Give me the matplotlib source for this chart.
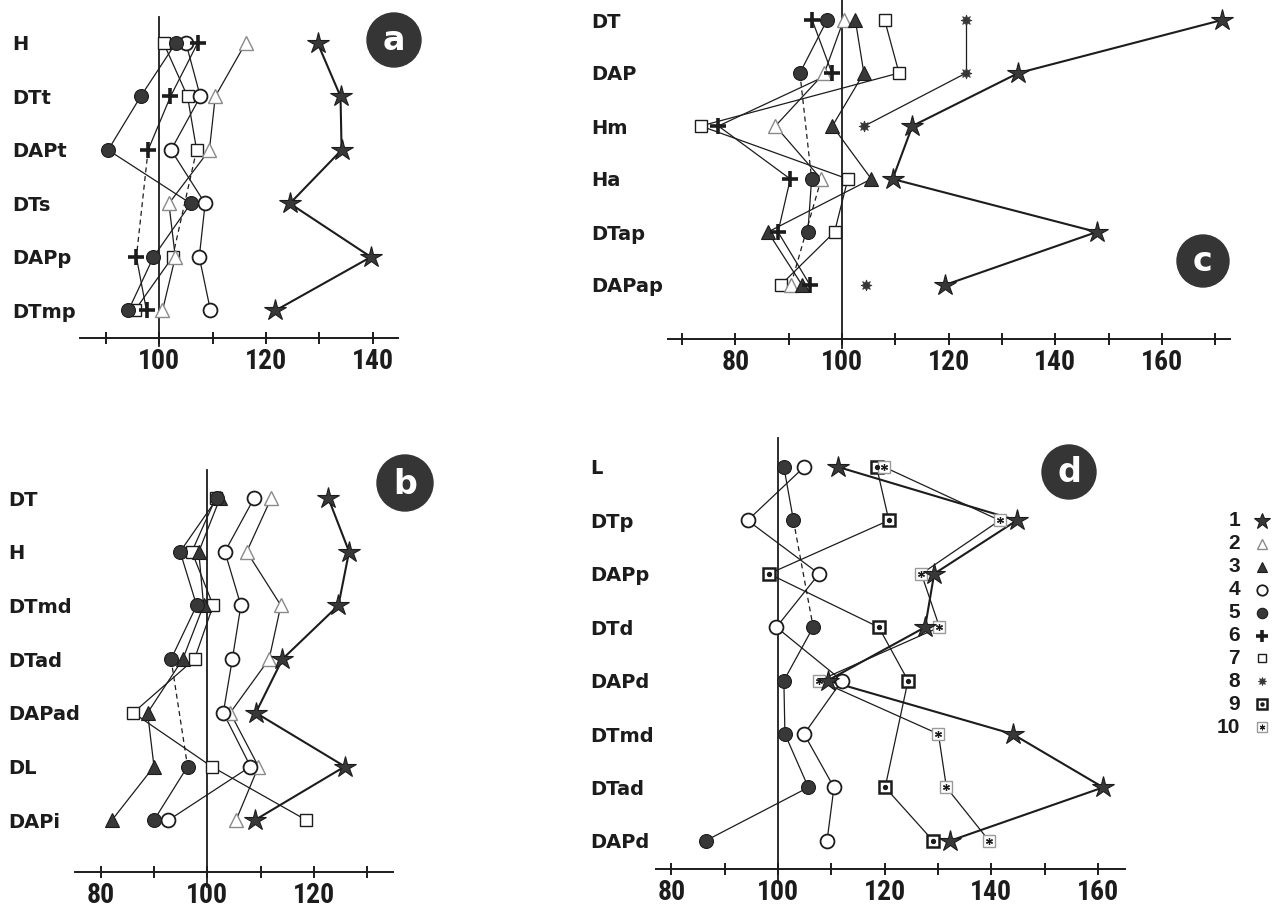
import numpy as np
import matplotlib
matplotlib.use('Agg')
import matplotlib.pyplot as plt
from matplotlib.patches import Circle

nan = np.nan

# ---- panel a ----
A_ROWS = ['H', 'DTt', 'DAPt', 'DTs', 'DAPp', 'DTmp']
A_STAR = [129.7, 134.0, 134.2, 124.5, 139.7, 121.8]      # 1
A_OTRI = [116.2, 110.5, 109.4, 101.8, 103.0, 100.6]      # 2
A_OCIR = [105.0, 107.7, 102.2, 108.6, 107.5, 109.6]      # 4
A_FCIR = [103.1, 96.5, 90.4, 105.9, 98.9, 94.2]          # 5
A_PLUS = [107.2, 102.1, 97.9, nan, 95.7, 97.6]           # 6
A_OSQ = [100.8, 105.3, 107.0, nan, 102.5, 95.4]          # 7

# ---- panel b ----
B_ROWS = ['DT', 'H', 'DTmd', 'DTad', 'DAPad', 'DL', 'DAPi']
B_STAR = [122.7, 126.6, 124.6, 114.1, 109.1, 125.8, 108.9]
B_OTRI = [112.0, 107.4, 113.8, 111.6, 104.3, 109.6, 105.4]
B_FTRI = [102.4, 98.4, 99.3, 95.4, 88.8, 90.0, 82.1]
B_OCIR = [108.8, 103.3, 106.3, 104.7, 103.0, 108.1, 92.7]
B_FCIR = [101.9, 94.9, 98.0, 93.2, nan, 96.3, 90.0]
B_OSQ = [101.6, 97.1, 101.1, 97.6, 86.1, 100.8, 118.6]

# ---- panel c ----
C_ROWS = ['DT', 'DAP', 'Hm', 'Ha', 'DTap', 'DAPap']
C_STAR = [171.3, 133.1, 113.2, 109.5, 147.8, 119.3]
C_OTRI = [100.3, 96.7, 87.5, 96.1, nan, 90.4]
C_FTRI = [102.5, 104.1, 98.2, 105.5, 86.1, 92.5]
C_FCIR = [97.2, 92.1, nan, 94.3, 93.6, nan]
C_PLUS = [94.4, 98.1, 76.8, 90.3, 88.0, 94.0]
C_OSQ = [108.0, 110.7, 73.5, 101.1, 98.6, 88.5]
C_AST = [123.3, 123.3, 104.2, nan, nan, 104.5]

# ---- panel d ----
D_ROWS = ['L', 'DTp', 'DAPp', 'DTd', 'DAPd', 'DTmd', 'DTad', 'DAPd']
D_STAR = [111.3, 144.8, 129.3, 127.6, 109.3, 144.0, 161.0, 132.3]
D_OCIR = [104.9, 94.3, 107.7, 99.7, 112.0, 104.9, 110.5, 109.2]
D_FCIR = [101.1, 102.9, nan, 106.6, 101.1, 101.3, 105.7, 86.4]
D_SQDOT = [118.5, 120.8, 98.3, 118.9, 124.4, nan, 120.1, 129.1]
D_SQAST = [119.9, 141.6, 126.9, 130.3, 107.7, 130.1, 131.6, 139.6]

LEGEND_KEYS = [1, 2, 3, 4, 5, 6, 7, 8, 9, 10]

W, H = 1273, 915
DARK = '#383838'
INK = '#1c1c1c'

STYLE = {
    1: dict(marker='*', ms=16, mfc=DARK, mec=INK, mew=0.8),
    2: dict(marker='^', ms=10, mfc='white', mec='#8a8a8a', mew=1.0),
    3: dict(marker='^', ms=10, mfc=DARK, mec=INK, mew=0.8),
    4: dict(marker='o', ms=10, mfc='white', mec=INK, mew=1.3),
    5: dict(marker='o', ms=10, mfc=DARK, mec=INK, mew=0.8),
    6: dict(marker='+', ms=12, mfc=INK, mec=INK, mew=2.6),
    7: dict(marker='s', ms=8, mfc='white', mec=INK, mew=1.0),
    8: dict(marker=(8, 1, 0), ms=8, mfc=DARK, mec=DARK, mew=0.5),
    9: dict(marker='s', ms=9, mfc='white', mec=INK, mew=1.8),
    10: dict(marker='s', ms=9, mfc='white', mec='#9a9a9a', mew=1.0),
}
ZORD = {7: 3, 9: 3, 10: 3, 2: 4, 4: 4, 3: 5, 5: 5, 6: 6, 8: 6, 1: 7}

ROW_FONT = dict(family=['DejaVu Sans'], weight='bold', size=14)
NUM_FONT = dict(family=['Roboto Condensed', 'Liberation Sans Narrow', 'DejaVu Sans'],
                stretch='condensed', weight='bold', size=20)

fig = plt.figure(figsize=(W / 100, H / 100), dpi=100)
fig.patch.set_facecolor('white')


def make_panel(left, right, x100, row0, step, axis_y, top, vbottom, label_x,
               rows, ticks, labeled):
    px = 5.33
    ax = fig.add_axes([left / W, 1 - axis_y / H, (right - left) / W, (axis_y - top) / H])
    ax.set_xlim(100 + (left - x100) / px, 100 + (right - x100) / px)
    ax.set_ylim((axis_y - row0) / step, (top - row0) / step)
    for s in ['top', 'right', 'left']:
        ax.spines[s].set_visible(False)
    ax.spines['bottom'].set_linewidth(1.4)
    ax.spines['bottom'].set_color(INK)
    ax.set_xticks(ticks)
    ax.set_xticklabels([str(t) if t in labeled else '' for t in ticks], **NUM_FONT)
    ax.tick_params(axis='x', direction='inout', length=9, width=1.4, color=INK,
                   pad=3, labelcolor=INK)
    ax.set_yticks(range(len(rows)))
    ax.set_yticklabels(rows, ha='left', color=INK, **ROW_FONT)
    # pad is in points: convert the pixel distance
    ax.tick_params(axis='y', length=0, pad=(left - label_x) * 0.72)
    ax.set_facecolor('none')
    # reference line at 100
    ax.plot([100, 100], [(top - row0) / step, (vbottom - row0) / step],
            color=INK, lw=1.3, clip_on=False, zorder=1)
    return ax


def draw_series(ax, key, vals, dashed=(), breaks=()):
    vals = np.array(vals, dtype=float)
    ys = np.arange(len(vals))
    idx = np.where(~np.isnan(vals))[0]
    lw = 1.5 if key == 1 else 0.9
    for a, b in zip(idx[:-1], idx[1:]):
        if (a, b) in breaks:
            continue
        ls = (0, (4, 3)) if (a, b) in dashed else '-'
        ax.plot(vals[[a, b]], [a, b], color=INK, lw=lw, ls=ls, zorder=2,
                solid_capstyle='round')
    z = ZORD[key]
    ax.plot(vals, ys, ls='none', zorder=z, clip_on=False, **STYLE[key])
    if key == 9:
        ax.plot(vals, ys, ls='none', marker='o', ms=2.8, color=INK, zorder=z + 0.1)
    if key == 10:
        ax.plot(vals, ys, ls='none', marker=(6, 2, 0), ms=5, mew=0.9,
                color=INK, zorder=z + 0.1)


def badge(x, y, r, letter):
    fig.add_artist(Circle((x / 100, (H - y) / 100), r / 100,
                          transform=fig.dpi_scale_trans, color='#353535', zorder=10))
    fig.text(x / W, 1 - (y + 1) / H, letter, color='white', ha='center', va='center',
             fontsize=24, weight='bold', family=['DejaVu Sans'], zorder=11)


# panel a
ax_a = make_panel(80, 398, 159.3, 43, 53.5, 338, 17, 346, 12, A_ROWS,
                  list(range(90, 141, 10)), [100, 120, 140])
draw_series(ax_a, 7, A_OSQ, dashed=[(2, 4)])
draw_series(ax_a, 2, A_OTRI)
draw_series(ax_a, 4, A_OCIR)
draw_series(ax_a, 5, A_FCIR)
draw_series(ax_a, 6, A_PLUS, dashed=[(2, 4)])
draw_series(ax_a, 1, A_STAR)
badge(394, 40, 27, 'a')

# panel b
ax_b = make_panel(75, 393, 207.3, 498, 53.7, 872, 470, 887, 8, B_ROWS,
                  list(range(80, 131, 10)), [80, 100, 120])
draw_series(ax_b, 7, B_OSQ)
draw_series(ax_b, 2, B_OTRI)
draw_series(ax_b, 4, B_OCIR)
draw_series(ax_b, 3, B_FTRI)
draw_series(ax_b, 5, B_FCIR, dashed=[(3, 5)])
draw_series(ax_b, 1, B_STAR)
badge(405, 483, 28, 'b')

# panel c
ax_c = make_panel(668, 1230, 842, 20, 53.0, 339, 0, 348, 591, C_ROWS,
                  list(range(70, 171, 10)), [80, 100, 120, 140, 160])
draw_series(ax_c, 7, C_OSQ)
draw_series(ax_c, 2, C_OTRI, dashed=[(3, 5)])
draw_series(ax_c, 3, C_FTRI)
draw_series(ax_c, 5, C_FCIR, dashed=[(1, 3)])
draw_series(ax_c, 6, C_PLUS)
draw_series(ax_c, 8, C_AST, breaks=[(2, 5)])
draw_series(ax_c, 1, C_STAR)
badge(1203, 261, 26, 'c')

# panel d
ax_d = make_panel(656, 1125, 778, 467, 53.4, 869, 438, 883, 590, D_ROWS,
                  list(range(80, 161, 10)), [80, 100, 120, 140, 160])
draw_series(ax_d, 9, D_SQDOT)
draw_series(ax_d, 10, D_SQAST)
draw_series(ax_d, 4, D_OCIR)
draw_series(ax_d, 5, D_FCIR, dashed=[(1, 3)])
draw_series(ax_d, 1, D_STAR)
badge(1069, 472, 27, 'd')

# legend
lx0, lx1, ly0, ly1 = 1200, 1273, 505, 740
ax_l = fig.add_axes([lx0 / W, 1 - ly1 / H, (lx1 - lx0) / W, (ly1 - ly0) / H])
ax_l.set_xlim(lx0, lx1)
ax_l.set_ylim(ly1, ly0)
ax_l.axis('off')
for i, k in enumerate(LEGEND_KEYS):
    y = 521 + 22.9 * i
    ax_l.text(1240, y, str(k), ha='right', va='center', color=INK,
              family=['Liberation Sans', 'DejaVu Sans'], weight='bold', fontsize=15)
    st = dict(STYLE[k])
    st['ms'] = st['ms'] * 0.75
    ax_l.plot([1262], [y], ls='none', **st)
    if k == 9:
        ax_l.plot([1262], [y], ls='none', marker='o', ms=2.2, color=INK)
    if k == 10:
        ax_l.plot([1262], [y], ls='none', marker=(6, 2, 0), ms=4, mew=0.8, color=INK)

fig.savefig('out.png', dpi=100)
